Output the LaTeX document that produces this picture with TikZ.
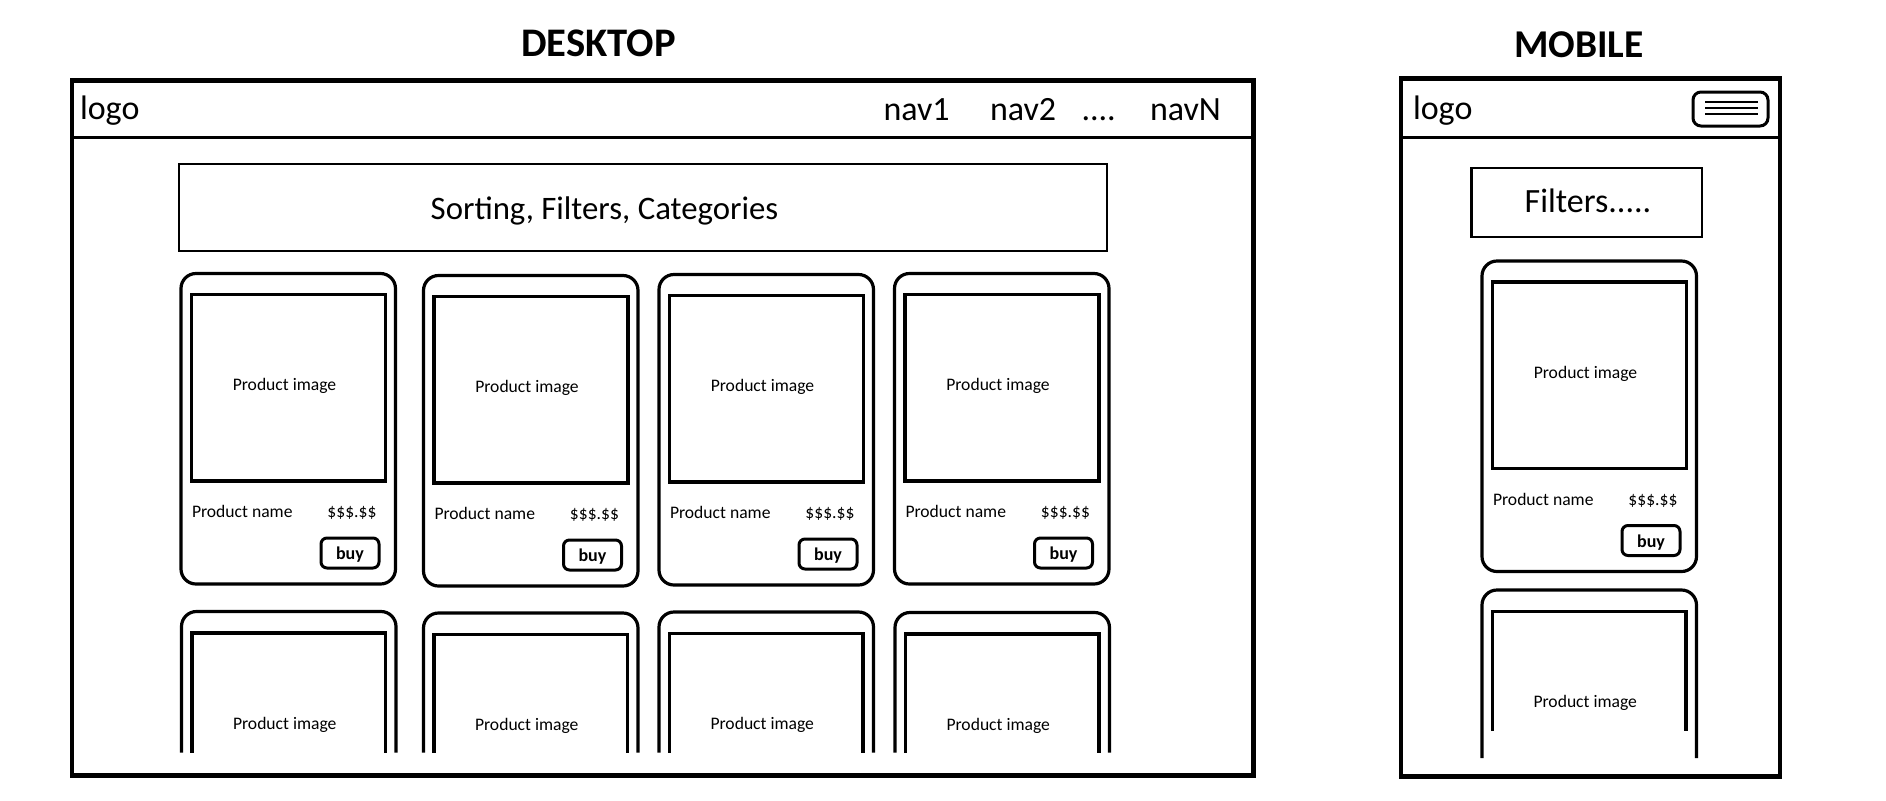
\documentclass[tikz,border=0pt]{standalone}
\usepackage{fontspec}
\setmainfont{Carlito}
\usetikzlibrary{calc}
\tikzset{
  every node/.style={inner sep=0pt, outer sep=0pt},
  frame/.style={draw, line width=2.3pt},
  sepline/.style={line width=1.5pt},
  boxed/.style={draw, line width=1.4pt},
  card/.style={draw, line width=1.6pt, rounded corners=7.5pt, minimum width=107.25pt, minimum height=155.25pt},
  cardline/.style={line width=1.6pt, rounded corners=7.5pt},
  img/.style={draw, line width=1.7pt, minimum width=97pt, minimum height=93.25pt},
  imgline/.style={line width=1.7pt},
  small/.style={font=\fontsize{8.8}{10}\selectfont},
  btn/.style={draw, line width=1.5pt, rounded corners=3pt, minimum width=29pt, minimum height=15pt, text height=0.86em, text depth=0.2em, font=\bfseries\fontsize{9}{10}\selectfont},
  big/.style={font=\fontsize{17}{20}\selectfont},
  title/.style={font=\bfseries\fontsize{20.3}{22}\selectfont},
}
\newcommand\prodcard[3]{%
  \node[card, anchor=north west] (#1) at (#2,#3) {};
  \node[img, anchor=north west] (#1img) at ($(#2,#3)+(10.5,21)$) {};
  \node[small] (#1imgtext) at ($(#1img.center)+(-4,-1.5)$) {Product image};
  \node[small, anchor=base west] (#1name) at ($(#2,#3)+(11,244)$) {Product name};
  \node[small, anchor=base east] (#1price) at ($(#2,#3)+(195.5,244)$) {\$\$\$.\$\$};
  \node[btn, anchor=north east] (#1buy) at ($(#2,#3)+(198,264.5)$) {buy};
}
\newcommand\opencard[5]{% name, left, top, image end, card end
  \draw[cardline] (#2,#5) -- (#2,#3) -- ($(#2,#3)+(214.5,0)$) -- ($(#2,#5)+(214.5,0)$);
  \draw[imgline] ($(#2,#4)+(10.5,0)$) -- ($(#2,#3)+(10.5,21.5)$) -- ($(#2,#3)+(204,21.5)$) -- ($(#2,#4)+(204,0)$);
  \node[small] (#1imgtext) at ($(#2,#3)+(103.25,113)$) {Product image};
}
\begin{document}
\begin{tikzpicture}[x=0.5pt,y=-0.5pt]
\useasboundingbox (0,0) rectangle (1886,800);
% titles
\node[title, anchor=base] (tdesk) at (598.5,56) {DESKTOP};
\node[title, anchor=base, font=\bfseries\fontsize{19.7}{22}\selectfont] (tmob) at (1579,57) {MOBILE};
% desktop frame
\node[frame, anchor=north west, minimum width=590.75pt, minimum height=347.5pt] (desk) at (72,80.5) {};
\draw[sepline] (72,137.5) -- (1253.5,137.5);
\node[big, anchor=base west] (dlogo) at (80,119) {logo};
\node[big, anchor=base west] (nav1) at (883.5,120.5) {nav1};
\node[big, anchor=base west] (nav2) at (990,120.5) {nav2};
\node[big, anchor=base west] (navdots) at (1081.5,120.5) {....};
\node[big, anchor=base west] (navN) at (1150,120.5) {navN};
\node[boxed, anchor=north west, minimum width=464pt, minimum height=43.5pt] (sortbox) at (179,164) {};
\node[big, anchor=base, font=\fontsize{16.4}{20}\selectfont] (sorttext) at (604.5,219) {Sorting, Filters, Categories};
% desktop cards row 1
\prodcard{ca}{181}{273.5}
\prodcard{cb}{423.5}{275.5}
\prodcard{cc}{659}{274.5}
\prodcard{cd}{894.5}{273.5}
% desktop cards row 2
\opencard{ra}{181.5}{611.5}{752.7}{752.7}
\opencard{rb}{423.5}{613}{752.7}{752.7}
\opencard{rc}{659}{612}{752.7}{752.7}
\opencard{rd}{895}{612.5}{752.7}{752.7}
% mobile frame
\node[frame, anchor=north west, minimum width=189.5pt, minimum height=349pt] (mob) at (1401,78.5) {};
\draw[sepline] (1401,137.5) -- (1780,137.5);
\node[big, anchor=base west] (mlogo) at (1413,119) {logo};
\node[draw, line width=1.5pt, rounded corners=4pt, anchor=north west, minimum width=37.5pt, minimum height=17pt] (burger) at (1693,92) {};
\draw[line width=1pt] (1705,102.3) -- (1758.3,102.3);
\draw[line width=1pt] (1705,108.3) -- (1758.3,108.3);
\draw[line width=1pt] (1705,114.3) -- (1758.3,114.3);
\node[boxed, anchor=north west, minimum width=115.25pt, minimum height=34.5pt] (filtbox) at (1471.5,168) {};
\node[big, anchor=base] (filttext) at (1588,212) {Filters.....};
\prodcard{ma}{1482}{261}
\opencard{mb}{1482}{590}{731}{758}
\end{tikzpicture}
\end{document}
